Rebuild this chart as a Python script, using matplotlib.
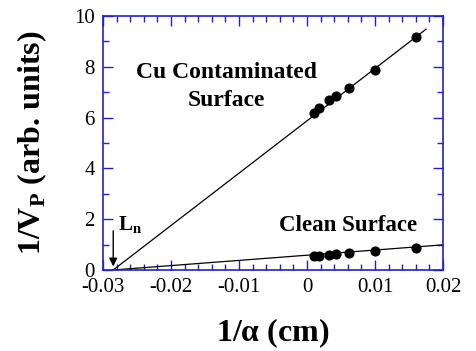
import matplotlib.pyplot as plt
from matplotlib.ticker import MultipleLocator

plt.rcParams['font.family'] = ['Liberation Serif', 'DejaVu Serif']
plt.rcParams['mathtext.fontset'] = 'custom'
plt.rcParams['mathtext.rm'] = 'Liberation Serif'
plt.rcParams['mathtext.bf'] = 'Liberation Serif:bold'

# data
x_pts = [0.0010, 0.0018, 0.0032, 0.0043, 0.0062, 0.0100, 0.0161]
y_cu = [6.17, 6.37, 6.69, 6.86, 7.18, 7.86, 9.18]
y_clean = [0.55, 0.55, 0.60, 0.64, 0.68, 0.73, 0.87]
L_n = -0.0285
cu_line_end = [0.0175, 9.48]
clean_line_end = [0.0205, 1.0]

fig = plt.figure(figsize=(4.76, 3.51), dpi=100)
ax = fig.add_axes([0.2164, 0.2308, 0.7143, 0.7236])

# fitted lines down to the intercept L_n
ax.plot([L_n, cu_line_end[0]], [0, cu_line_end[1]], color='black', lw=0.9)
ax.plot([L_n, clean_line_end[0]], [0, clean_line_end[1]], color='black', lw=0.9)
ax.plot(x_pts, y_cu, 'o', color='black', ms=6.3)
ax.plot(x_pts, y_clean, 'o', color='black', ms=6.3)

ax.annotate('', xy=(L_n, 0.03), xytext=(L_n, 1.65),
            arrowprops=dict(arrowstyle='-|>', color='black', lw=1, mutation_scale=12))
ax.text(-0.0278, 1.8, r'$\mathbf{L_n}$', fontsize=15, ha='left', va='center')

ax.text(-0.0119, 7.22, 'Cu Contaminated\nSurface', fontsize=17, fontweight='bold',
        ha='center', va='center', linespacing=1.4)
ax.text(0.0061, 1.75, 'Clean Surface', fontsize=16.5, fontweight='bold', ha='center', va='center')

ax.set_xlim(-0.03, 0.02)
ax.set_ylim(0, 10)
ax.xaxis.set_major_locator(MultipleLocator(0.01))
ax.xaxis.set_minor_locator(MultipleLocator(0.002))
ax.yaxis.set_major_locator(MultipleLocator(2))
ax.yaxis.set_minor_locator(MultipleLocator(1))
ax.set_xticks([-0.03, -0.02, -0.01, 0, 0.01, 0.02])
ax.set_xticklabels(['-0.03', '-0.02', '-0.01', '0', '0.01', '0.02'])

for s in ax.spines.values():
    s.set_color('#2020d0')
    s.set_linewidth(1.2)
ax.tick_params(which='both', direction='in', top=True, right=True, color='#2020d0',
               labelsize=15)
ax.tick_params(axis='x', pad=6)
ax.tick_params(axis='y', pad=6)
ax.tick_params(which='major', length=7, width=1)
ax.tick_params(which='minor', length=4, width=1)

ax.set_xlabel(r'1/$\mathbf{\alpha}$ (cm)', fontsize=23, fontweight='bold', labelpad=14)
ax.set_ylabel(r'1/V$_\mathbf{P}$ (arb. units)', fontsize=23, fontweight='bold', labelpad=18)

plt.savefig('out.png', dpi=100)
